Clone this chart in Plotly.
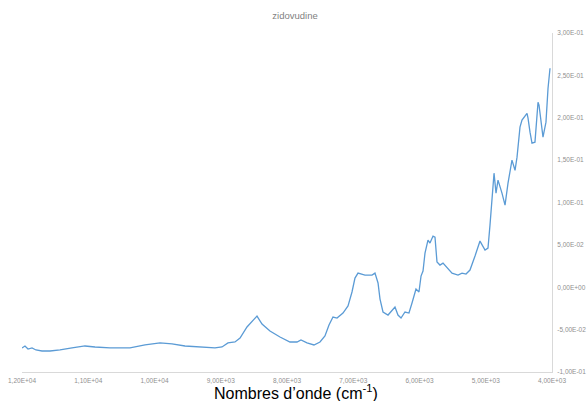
import plotly.graph_objects as go

# Spectrum of zidovudine: wavenumber (cm-1) and signal
wavenumber = [
    12000, 11955, 11909, 11849, 11789, 11698, 11577, 11426, 11245, 11049,
    10898, 10672, 10370, 10143, 9917, 9736, 9540, 9313, 9087, 8981,
    8891, 8785, 8709, 8604, 8528, 8453, 8377, 8257, 8106, 7955,
    7849, 7789, 7698, 7593, 7502, 7427, 7366, 7306, 7245, 7155,
    7079, 7019, 6974, 6928, 6823, 6717, 6672, 6626, 6596, 6551,
    6475, 6415, 6370, 6325, 6279, 6219, 6159, 6113, 6053, 6008,
    5977, 5947, 5917, 5872, 5842, 5796, 5766, 5736, 5691, 5645,
    5585, 5509, 5419, 5358, 5298, 5238, 5162, 5087, 5011, 4966,
    4936, 4906, 4875, 4845, 4815, 4755, 4709, 4664, 4604, 4558,
    4528, 4483, 4453, 4377, 4362, 4332, 4302, 4257, 4211, 4196,
    4151, 4136, 4091, 4060, 4030,
]
signal = [
    -0.0716, -0.0693, -0.0729, -0.0716, -0.0740, -0.0752, -0.0752, -0.0740, -0.0716, -0.0693,
    -0.0705, -0.0716, -0.0716, -0.0681, -0.0657, -0.0669, -0.0693, -0.0705, -0.0716, -0.0705,
    -0.0657, -0.0646, -0.0599, -0.0469, -0.0410, -0.0340, -0.0434, -0.0516, -0.0587, -0.0646,
    -0.0646, -0.0622, -0.0657, -0.0681, -0.0646, -0.0575, -0.0445, -0.0351, -0.0363, -0.0304,
    -0.0221, -0.0056, 0.0108, 0.0167, 0.0144, 0.0144, 0.0167, 0.0050, -0.0139, -0.0292,
    -0.0328, -0.0269, -0.0233, -0.0328, -0.0363, -0.0292, -0.0304, -0.0186, -0.0021, -0.0056,
    0.0132, 0.0191, 0.0403, 0.0557, 0.0521, 0.0604, 0.0592, 0.0297, 0.0262, 0.0285,
    0.0238, 0.0167, 0.0144, 0.0167, 0.0156, 0.0203, 0.0368, 0.0545, 0.0439, 0.0462,
    0.0733, 0.1086, 0.1346, 0.1110, 0.1264, 0.1110, 0.0969, 0.1228, 0.1500, 0.1380,
    0.1535, 0.1889, 0.1972, 0.2053, 0.1995, 0.1830, 0.1700, 0.1712, 0.2183, 0.2148,
    0.1877, 0.1771, 0.1948, 0.2348, 0.2584,
]

x_ticks = [12000, 11000, 10000, 9000, 8000, 7000, 6000, 5000, 4000]
y_ticks = [0.30, 0.25, 0.20, 0.15, 0.10, 0.05, 0.0, -0.05, -0.10]


def sci_fr(v):
    # Scientific notation with a decimal comma, e.g. 1,20E+04
    return f"{v:.2E}".replace(".", ",")


fig = go.Figure()
fig.add_trace(go.Scatter(
    x=wavenumber, y=signal, mode="lines",
    line=dict(color="#5B9BD5", width=1.3),
    hoverinfo="skip", showlegend=False,
))

tick_font = dict(family="Liberation Sans, Arial, sans-serif", size=6.5, color="#8f8f8f")

fig.update_layout(
    width=587, height=401,
    margin=dict(l=22, r=35, t=33, b=29),
    paper_bgcolor="white", plot_bgcolor="white",
    title=dict(
        text="zidovudine", x=(295 - 22) / 530, xref="paper", xanchor="center",
        y=1 - 16 / 401, yref="container", yanchor="middle",
        font=dict(family="Liberation Sans, Arial, sans-serif", size=9.5, color="#7f7f7f"),
    ),
    xaxis=dict(
        range=[12000, 4000], tickvals=x_ticks, ticktext=[sci_fr(v) for v in x_ticks],
        showgrid=False, zeroline=False, showline=True, linecolor="#d9d9d9", linewidth=1,
        ticks="", tickfont=tick_font, ticklabelstandoff=2, automargin=False,
    ),
    yaxis=dict(
        range=[-0.10, 0.30], side="right", tickvals=y_ticks,
        ticktext=[sci_fr(v) for v in y_ticks],
        showgrid=False, zeroline=False, showline=True, linecolor="#d9d9d9", linewidth=1,
        ticks="", tickfont=tick_font, ticklabelstandoff=3, automargin=False,
    ),
    annotations=[dict(
        text="Nombres d\u2019onde (cm<sup>-1</sup>)",
        xref="paper", yref="paper", x=(296 - 22) / 530, y=-20.5 / 339,
        xanchor="center", yanchor="middle", showarrow=False,
        font=dict(family="Liberation Sans, Arial, sans-serif", size=16, color="#000000"),
    )],
)

fig.write_html("out.html")
